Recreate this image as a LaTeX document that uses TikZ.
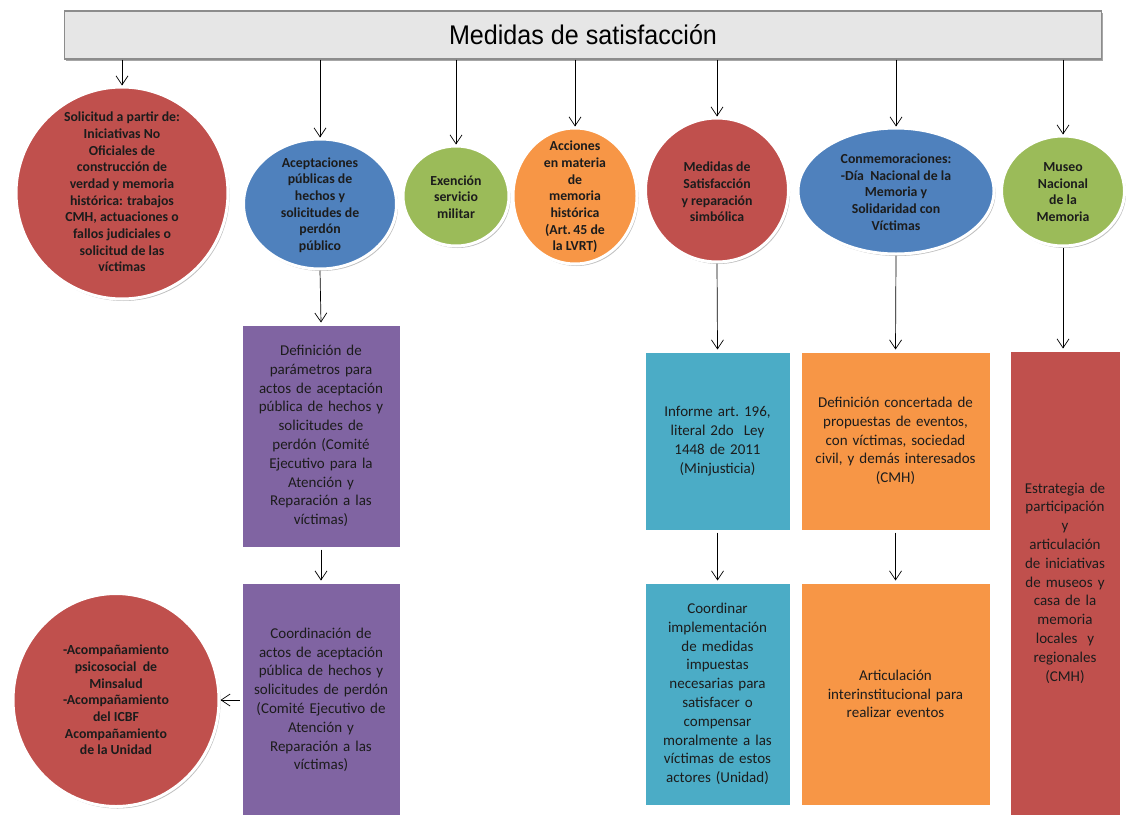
\documentclass[tikz,border=0pt]{standalone}
\usepackage{fontspec}
\setmainfont{Carlito}
\newfontfamily\titlefont{Liberation Sans}
\usetikzlibrary{shapes.geometric,arrows.meta,shadows}
\definecolor{cred}{HTML}{C0504D}
\definecolor{cblue}{HTML}{4F81BD}
\definecolor{cgreen}{HTML}{9BBB59}
\definecolor{corange}{HTML}{F79646}
\definecolor{cpurple}{HTML}{8064A2}
\definecolor{ccyan}{HTML}{4BACC6}
\definecolor{ctext}{HTML}{1C1C1C}
\definecolor{barfill}{HTML}{E6E6E6}
\definecolor{baredge}{HTML}{8C8C8C}
\begin{document}
\begin{tikzpicture}[x=1pt,y=-1pt,
  ellbase/.style={ellipse, draw=white, line width=3pt, inner sep=0pt,
    drop shadow={shadow xshift=1.5pt, shadow yshift=-2pt, opacity=0.25, fill=black}},
  ctxt/.style={align=center, text=ctext, inner sep=0pt,
    font=\fontsize{13.8}{16.7}\selectfont\bfseries},
  boxbase/.style={rectangle, draw=white, line width=3pt, inner sep=2pt, align=center,
    text=ctext, font=\fontsize{15}{18.8}\selectfont,
    drop shadow={shadow xshift=1.5pt, shadow yshift=-2pt, opacity=0.25, fill=black}},
  arr/.style={-{Straight Barb[length=9pt,width=12pt]}, line width=0.7pt, black},
]
\useasboundingbox (0,0) rectangle (1126,814);

% title bar
\node[rectangle, fill=barfill, draw=baredge, line width=1.3pt,
  minimum width=1037pt, minimum height=48pt, inner sep=0pt,
  drop shadow={shadow xshift=1.5pt, shadow yshift=-1.5pt, opacity=0.35, fill=black}]
  (title) at (583,35) {\titlefont\fontsize{27}{30}\selectfont\scalebox{0.93}[1]{Medidas de satisfacción}};

% ellipses
\node[ellbase, fill=cred, minimum width=212pt, minimum height=212pt] (c1) at (122,193) {};
\node[ctxt] (c1t) at (122,192) {Solicitud a partir de:\\Iniciativas No\\Oficiales de\\construcción de\\verdad y memoria\\histórica: trabajos\\CMH, actuaciones o\\fallos judiciales o\\solicitud de las\\víctimas};

\node[ellbase, fill=cblue, minimum width=153pt, minimum height=130pt] (c2) at (320,204) {};
\node[ctxt] (c2t) at (320,205) {Aceptaciones\\públicas de\\hechos y\\solicitudes de\\perdón\\público};

\node[ellbase, fill=cgreen, minimum width=106pt, minimum height=100pt] (c3) at (456,196) {};
\node[ctxt] (c3t) at (456,197) {Exención\\servicio\\militar};

\node[ellbase, fill=corange, minimum width=124pt, minimum height=136pt] (c4) at (575,196) {};
\node[ctxt] (c4t) at (575,197) {Acciones\\en materia\\de\\memoria\\histórica\\(Art.\,45 de\\la LVRT)};

\node[ellbase, fill=cred, minimum width=143pt, minimum height=144pt] (c5) at (717,190) {};
\node[ctxt] (c5t) at (717,192) {Medidas de\\Satisfacción\\y reparación\\simbólica};

\node[ellbase, fill=cblue, minimum width=196pt, minimum height=126pt] (c6) at (896,191) {};
\node[ctxt] (c6t) at (896,192) {Conmemoraciones:\\-Día\ \ Nacional de la\\Memoria y\\Solidaridad con\\Víctimas};

\node[ellbase, fill=cgreen, minimum width=123pt, minimum height=110pt] (c7) at (1063,191) {};
\node[ctxt] (c7t) at (1063,192) {Museo\\Nacional\\de la\\Memoria};

\node[ellbase, fill=cred, minimum width=206pt, minimum height=213pt] (c8) at (116,700) {};
\node[ctxt] (c8t) at (116,700) {-Acompañamiento\\psicosocial\ \ de\\Minsalud\\-Acompañamiento\\del ICBF\\Acompañamiento\\de la Unidad};

% boxes
\node[boxbase, fill=cpurple, minimum width=160pt, minimum height=224pt, text width=150pt] (b1) at (321,436)
  {Definición de\\parámetros para\\actos de aceptación\\pública de hechos y\\solicitudes de\\perdón (Comité\\Ejecutivo para la\\Atención y\\Reparación a las\\víctimas)};
\node[boxbase, fill=cpurple, minimum width=160pt, minimum height=236pt, text width=152pt] (b2) at (321,700)
  {Coordinación de\\actos de aceptación\\pública de hechos y\\solicitudes de perdón\\(Comité Ejecutivo de\\Atención y\\Reparación a las\\víctimas)};
\node[boxbase, fill=ccyan, minimum width=147pt, minimum height=180pt, text width=140pt] (b3) at (717.5,441)
  {Informe art.~196,\\literal 2do\ \ Ley\\1448 de 2011\\(Minjusticia)};
\node[boxbase, fill=corange, minimum width=191pt, minimum height=180pt, text width=184pt] (b4) at (895.5,441)
  {Definición concertada de\\propuestas de eventos,\\con víctimas, sociedad\\civil, y demás interesados\\(CMH)};
\node[boxbase, fill=cred, minimum width=112pt, minimum height=466pt, text width=104pt] (b5) at (1065,583)
  {Estrategia de\\participación\\y\\articulación\\de iniciativas\\de museos y\\casa de la\\memoria\\locales\ \ y\\regionales\\(CMH)};
\node[boxbase, fill=ccyan, minimum width=147pt, minimum height=224pt, text width=140pt] (b6) at (717.5,694)
  {Coordinar\\implementación\\de medidas\\impuestas\\necesarias para\\satisfacer o\\compensar\\moralmente a las\\víctimas de estos\\actores (Unidad)};
\node[boxbase, fill=corange, minimum width=191pt, minimum height=224pt, text width=184pt] (b7) at (895.5,694)
  {Articulación\\interinstitucional para\\realizar eventos};

% connectors from title
\foreach \n in {c1,c2,c3,c4,c5,c6,c7}
  \draw[arr] (title.south -| \n.north) -- (\n.north);

% lower connectors
\draw[arr] (c2.south) -- (b1.north);
\draw[arr] (b1.south) -- (b2.north);
\draw[arr] (b2.west) -- (c8.east);
\draw[arr] (c5.south) -- (b3.north);
\draw[arr] (b3.south) -- (b6.north);
\draw[arr] (c6.south) -- (b4.north);
\draw[arr] (b4.south) -- (b7.north);
\draw[arr] (c7.south) -- (c7.south |- b5.north);
\end{tikzpicture}
\end{document}
